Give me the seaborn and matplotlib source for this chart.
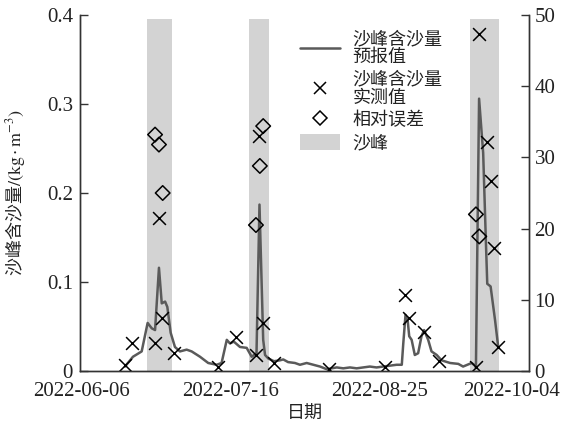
import numpy as np
import pandas as pd
import matplotlib
matplotlib.use('Agg')
import matplotlib.pyplot as plt
import matplotlib.dates as mdates
import matplotlib.transforms as mtransforms
from matplotlib.lines import Line2D
from matplotlib.patches import Patch
import seaborn as sns

# ---------------- data (days counted from start_date) ----------------
start_date = '2022-06-06'

forecast_day = [11.6, 13.75, 16.1, 17.7, 18.8, 19.7, 20.75, 21.5, 22.4, 23.0, 23.9, 25.05,
                26.4, 28.2, 29.55, 31.8, 34.0, 36.3, 37.6, 39.0, 39.85, 40.9, 42.55, 44.35,
                45.7, 47.0, 47.8, 48.8, 49.3, 50.2, 51.7, 53.3, 54.2, 55.5, 57.35, 58.7,
                60.5, 62.3, 64.1, 65.9, 67.2, 68.6, 70.35, 72.15, 73.95, 75.7, 77.5, 79.3,
                81.1, 82.9, 84.7, 86.1, 86.5, 87.1, 87.7, 88.1, 88.75, 89.6, 90.5, 91.4,
                92.1, 93.2, 94.1, 95.5, 96.8, 99.1, 101.3, 102.6, 104.9, 105.8, 106.05,
                106.9, 108.0, 108.75, 109.1, 110.0, 111.2, 112.05]
forecast_val = [0.005, 0.016, 0.022, 0.054, 0.048, 0.046, 0.116, 0.076, 0.078, 0.072, 0.043, 0.027,
                0.022, 0.024, 0.022, 0.016, 0.009, 0.007, 0.009, 0.035, 0.031, 0.033, 0.027, 0.026,
                0.016, 0.020, 0.187, 0.035, 0.018, 0.014, 0.011, 0.012, 0.013, 0.010, 0.009, 0.007,
                0.009, 0.007, 0.005, 0.002, 0.003, 0.004, 0.003, 0.004, 0.003, 0.004, 0.005, 0.004,
                0.005, 0.006, 0.007, 0.007, 0.031, 0.063, 0.056, 0.039, 0.035, 0.018, 0.020, 0.039,
                0.046, 0.035, 0.022, 0.018, 0.012, 0.009, 0.008, 0.005, 0.009, 0.006, 0.004,
                0.306, 0.245, 0.143, 0.098, 0.095, 0.057, 0.027]

measured_day = [11.6, 13.6, 19.75, 20.8, 21.5, 24.9, 36.7, 41.5, 46.85, 47.75, 48.7, 51.7,
                66.6, 81.55, 86.95, 88.1, 92.15, 96.2, 106.05, 106.95, 109.1, 110.0, 110.9, 112.05]
measured_val = [0.007, 0.032, 0.031, 0.172, 0.059, 0.020, 0.004, 0.038, 0.0185, 0.264, 0.054, 0.009,
                0.002, 0.0045, 0.085, 0.060, 0.044, 0.011, 0.005, 0.379, 0.257, 0.213, 0.138, 0.027]

error_day = [19.7, 20.75, 21.75, 46.85, 47.9, 48.8, 106.05, 106.95]
error_val = [33.2, 31.8, 25.0, 20.5, 28.8, 34.4, 22.0, 18.9]

peak_start = [17.6, 45.05, 104.4]
peak_end = [24.3, 50.3, 112.2]

x_tick_labels = ['2022-06-06', '2022-07-16', '2022-08-25', '2022-10-04']
left_ticks = [0, 0.1, 0.2, 0.3, 0.4]
right_ticks = [0, 10, 20, 30, 40, 50]

legend_labels = ['沙峰含沙量\n预报值', '沙峰含沙量\n实测值', '相对误差', '沙峰']

# ---------------- style ----------------
sns.set_theme(style='white')
plt.rcParams['font.family'] = ['Noto Sans CJK SC', 'DejaVu Sans']
plt.rcParams['mathtext.fontset'] = 'stix'
plt.rcParams['axes.unicode_minus'] = False

base = pd.Timestamp(start_date)


def to_dt(days):
    return base + pd.to_timedelta(np.asarray(days, dtype=float), unit='D')


df_f = pd.DataFrame({'date': to_dt(forecast_day), 'val': forecast_val})
df_m = pd.DataFrame({'date': to_dt(measured_day), 'val': measured_val})
df_e = pd.DataFrame({'date': to_dt(error_day), 'val': error_val})

fig = plt.figure(figsize=(5.69, 4.30), dpi=100)
ax = fig.add_axes([80 / 569, 59 / 430, 449 / 569, 356 / 430])

line_color = '#5a5a5a'
band_color = '#d3d3d3'

for s, e in zip(peak_start, peak_end):
    ax.axvspan(to_dt([s])[0], to_dt([e])[0], ymin=0, ymax=0.99,
               color=band_color, lw=0, zorder=0)

sns.lineplot(data=df_f, x='date', y='val', ax=ax, color=line_color, lw=1.8, zorder=2)
sns.scatterplot(data=df_m, x='date', y='val', ax=ax, marker='x', s=85,
                color='black', linewidth=1.1, zorder=3)

ax.set_xlim(pd.Timestamp('2022-06-05 12:00'), pd.Timestamp('2022-10-04 08:00'))
ax.set_ylim(0, 0.4)
ax.set_yticks(left_ticks)
ax.yaxis.set_major_formatter(plt.FuncFormatter(lambda v, p: '0' if abs(v) < 1e-9 else f'{v:.1f}'))
ax.set_xticks(pd.to_datetime(x_tick_labels))
ax.xaxis.set_major_formatter(mdates.DateFormatter('%Y-%m-%d'))

ax2 = ax.twinx()
sns.scatterplot(data=df_e, x='date', y='val', ax=ax2, marker='D', s=55,
                color='black', facecolor='none', edgecolor='black', linewidth=1.1, zorder=4)
ax2.set_ylim(0, 50)
ax2.set_yticks(right_ticks)
ax2.set_ylabel('')
ax2.set_xlim(ax.get_xlim())

for a in (ax, ax2):
    a.spines['top'].set_visible(False)
    for sp in a.spines.values():
        sp.set_color('#333333')
        sp.set_linewidth(1.0)
    a.tick_params(direction='in', length=6, width=1, color='#333333',
                  labelsize=15, labelcolor='#222222')
ax.tick_params(axis='x', pad=8)
ax.tick_params(axis='y', pad=5)
ax2.tick_params(axis='y', pad=4)

for lab in ax.get_xticklabels() + ax.get_yticklabels() + ax2.get_yticklabels():
    lab.set_fontfamily('Liberation Serif')

ax.set_xlabel('日期', fontsize=13, labelpad=3, color='#222222')
ax.set_ylabel('沙峰含沙量$\\mathrm{/(kg \\cdot m^{-3})}$', fontsize=13, labelpad=14, color='#222222')

# shift last x tick label left as in reference
labels = ax.get_xticklabels()
last = labels[-1]
last.set_transform(last.get_transform() +
                   mtransforms.ScaledTranslation(-16 / 100, 0, fig.dpi_scale_trans))

handles = [Line2D([], [], color=line_color, lw=1.8),
           Line2D([], [], ls='none', marker='x', ms=9.2, mew=1.1, color='black'),
           Line2D([], [], ls='none', marker='D', ms=7, mfc='none', mec='black', mew=1.1),
           Patch(facecolor=band_color, edgecolor='none')]
leg = ax2.legend(handles, legend_labels, loc='upper left',
                 bbox_to_anchor=(300 / 569, (430 - 30) / 430), bbox_transform=fig.transFigure,
                 frameon=False, fontsize=13, handlelength=2.2, handleheight=1.0,
                 labelspacing=0.25, handletextpad=0.7, borderpad=0, borderaxespad=0)
for t in leg.get_texts():
    t.set_linespacing(1.0)
    t.set_color('#222222')

fig.savefig('out.png', dpi=100)
